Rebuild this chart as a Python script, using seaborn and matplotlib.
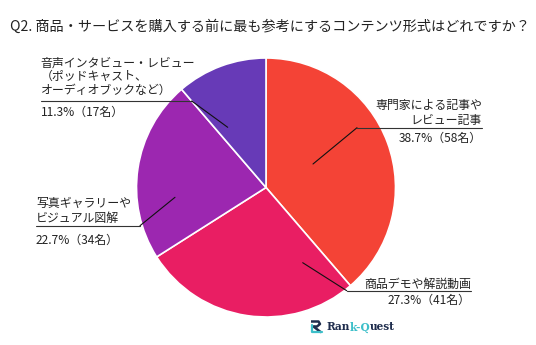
import matplotlib
matplotlib.use("Agg")
import matplotlib.pyplot as plt
import seaborn as sns

sns.set_theme(style="white")
plt.rcParams['font.family'] = ['Noto Sans CJK JP', 'DejaVu Sans']

title = "Q2. 商品・サービスを購入する前に最も参考にするコンテンツ形式はどれですか？"
categories = ["専門家による記事や\nレビュー記事", "商品デモや解説動画",
              "写真ギャラリーや\nビジュアル図解",
              "音声インタビュー・レビュー\n（ポッドキャスト、\nオーディオブックなど）"]
percents = [38.7, 27.3, 22.7, 11.3]
counts = [58, 41, 34, 17]
colors = ["#F44336", "#E91E63", "#9C27B0", "#673AB7"]

W, H = 536, 345
fig = plt.figure(figsize=(W / 100, H / 100), dpi=100)
ax = fig.add_axes([0, 0, 1, 1])

def Y(y):
    return H - y

cx, cy, R = 266, 187.5, 129.5
ax.pie(percents, colors=colors, startangle=90, counterclock=False,
       center=(cx, Y(cy)), radius=R, frame=True,
       wedgeprops=dict(edgecolor="white", linewidth=1.2))
ax.set_xlim(0, W)
ax.set_ylim(0, H)
ax.set_aspect('equal')
ax.axis('off')

fig.text(10 / W, 1 - 27 / H, title, fontsize=10.2, color="#222222",
         va="center", ha="left")

fs = 8.6
tc = "#222222"
layouts = [
    dict(x=482, ha="right", top=105, ul=127.7, ux=(357, 482), py=138.5, lead=(357, 313, 164)),
    dict(x=471, ha="right", top=284, ul=290.7, ux=(346.7, 471), py=300.5, lead=(346.7, 302.7, 262.7)),
    dict(x=36, ha="left", top=203, ul=225.7, ux=(36, 140), py=240, lead=(140, 175, 197.3)),
    dict(x=40.5, ha="left", top=62.7, ul=101, ux=(40.5, 191.7), py=112, lead=(191.7, 227.7, 127.3)),
]
for cat, p, n, L in zip(categories, percents, counts, layouts):
    lines = cat.split("\n")
    nl = len(lines)
    step = (L["ul"] - 7.5 - L["top"]) / (nl - 1) if nl > 1 else 0
    if nl == 3:
        step = 13.6
    for i, ln in enumerate(lines):
        ax.text(L["x"], Y(L["top"] + i * step), ln, fontsize=fs, color=tc,
                ha=L["ha"], va="center")
    ax.text(L["x"], Y(L["py"]), f"{p}%（{n}名）", fontsize=fs, color=tc,
            ha=L["ha"], va="center", fontstretch="expanded")
    x0, x1 = L["ux"]
    ax.plot([x0, x1], [Y(L["ul"]), Y(L["ul"])], color="#333333", lw=0.8)
    lx, ex, ey = L["lead"]
    ax.plot([lx, ex], [Y(L["ul"]), Y(ey)], color="#111111", lw=0.8)

# logo
navy = "#1f2d4d"
teal = "#3cbfc9"
# icon drawn as a small shape
ax.plot([311, 318.5, 320, 317, 313.5], [Y(321.5), Y(321.5), Y(324), Y(326.5), Y(326.5)],
        color=navy, lw=1.8, solid_capstyle="butt")
ax.plot([313.5, 320.5], [Y(326.5), Y(332)], color=navy, lw=1.8)
ax.plot([311.5, 311.5, 316, 322], [Y(325), Y(331.5), Y(331.5), Y(331.5)], color=teal, lw=1.6)
parts = [("Ran", navy), ("k-Q", teal), ("uest", navy)]
x = 326
for s, c in parts:
    t = ax.text(x, Y(327), s, fontsize=7.6, color=c, ha="left", va="center",
                family="DejaVu Serif", fontweight="bold")
    fig.canvas.draw()
    bb = t.get_window_extent()
    x += bb.width * (W / fig.bbox.width)

fig.savefig("out.png", dpi=100, facecolor="white")
